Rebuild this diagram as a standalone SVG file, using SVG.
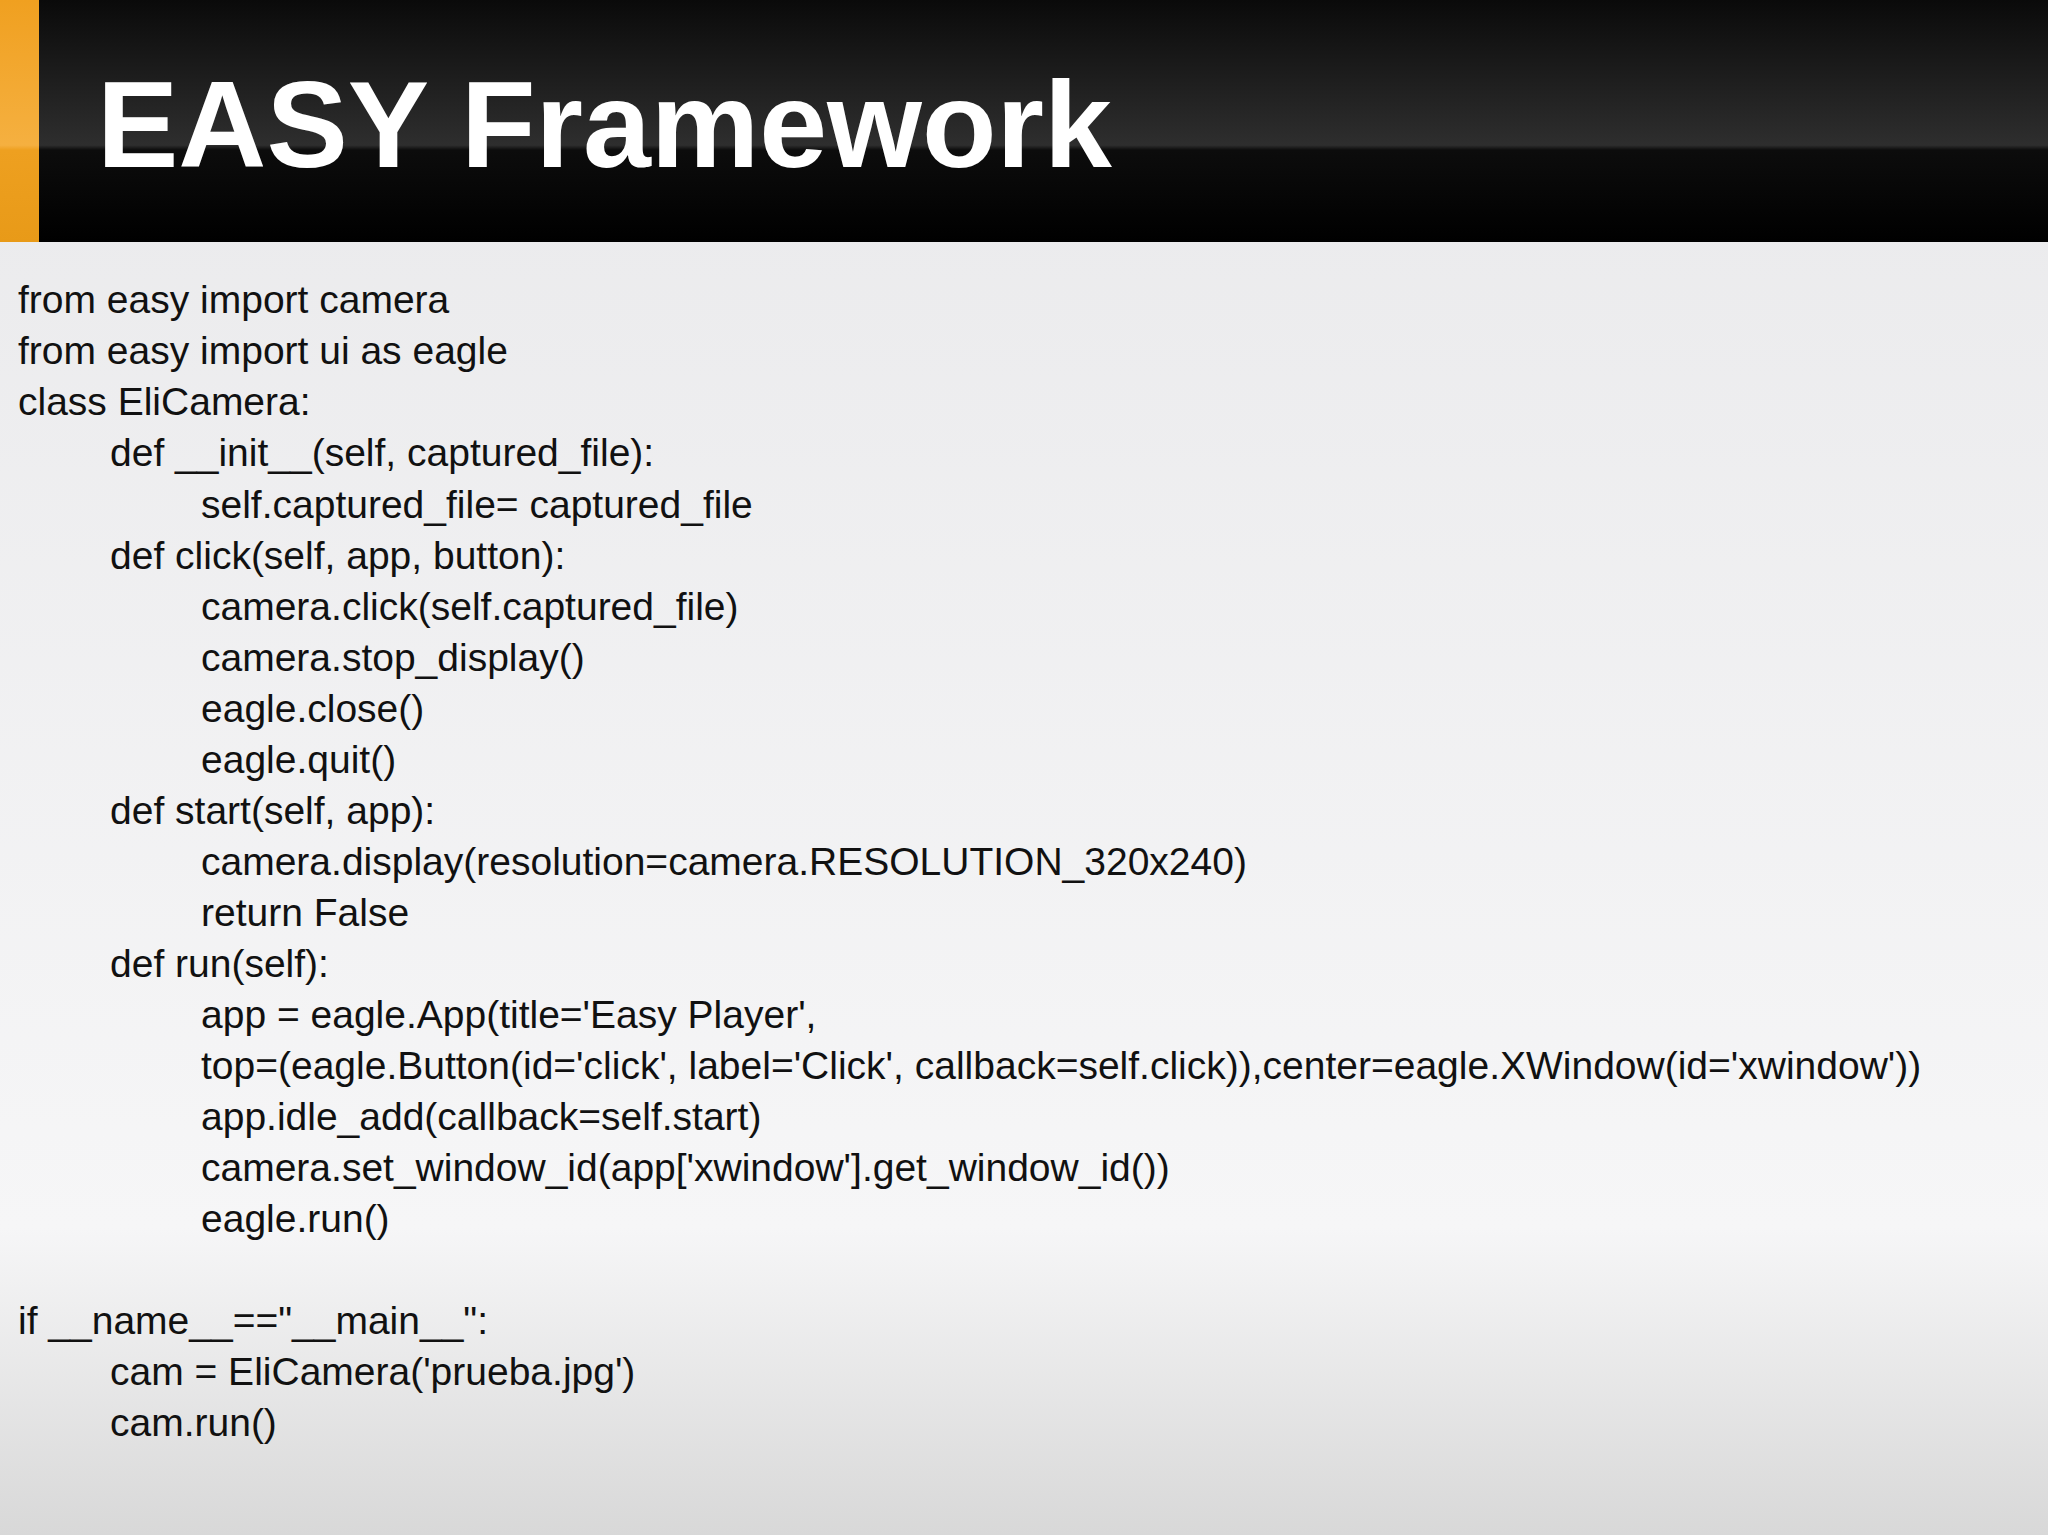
<svg xmlns="http://www.w3.org/2000/svg" width="2048" height="1535" viewBox="0 0 2048 1535">
<defs>
<linearGradient id="bg" x1="0" y1="0" x2="0" y2="1"><stop offset="0" stop-color="#e9e9eb"/><stop offset="0.8" stop-color="#f6f6f7"/><stop offset="1" stop-color="#d8d8d8"/></linearGradient>
<linearGradient id="hd" x1="0" y1="0" x2="0" y2="1"><stop offset="0" stop-color="#0a0a0a"/><stop offset="0.6" stop-color="#2e2e2e"/><stop offset="0.62" stop-color="#0c0c0c"/><stop offset="1" stop-color="#000"/></linearGradient>
<linearGradient id="or" x1="0" y1="0" x2="0" y2="1"><stop offset="0" stop-color="#f0a020"/><stop offset="0.6" stop-color="#f5b040"/><stop offset="0.62" stop-color="#eea020"/><stop offset="1" stop-color="#e89a18"/></linearGradient>
<style>.c{font-family:"Liberation Sans",Arial,sans-serif;font-size:39px;fill:#111}</style>
</defs>
<rect width="2048" height="1535" fill="url(#bg)"/>
<g id="header">
<rect width="2048" height="242" fill="url(#hd)"/>
<rect width="39" height="242" fill="url(#or)"/>
<text x="97" y="167" font-family="Liberation Sans,Arial,sans-serif" font-weight="bold" font-size="122" fill="#fff">EASY Framework</text>
</g>
<g id="code" class="c">
<text class="c" x="18" y="313">from easy import camera</text>
<text class="c" x="18" y="364">from easy import ui as eagle</text>
<text class="c" x="18" y="415">class EliCamera:</text>
<text class="c" x="110" y="466">def __init__(self, captured_file):</text>
<text class="c" x="201" y="518">self.captured_file= captured_file</text>
<text class="c" x="110" y="569">def click(self, app, button):</text>
<text class="c" x="201" y="620">camera.click(self.captured_file)</text>
<text class="c" x="201" y="671">camera.stop_display()</text>
<text class="c" x="201" y="722">eagle.close()</text>
<text class="c" x="201" y="773">eagle.quit()</text>
<text class="c" x="110" y="824">def start(self, app):</text>
<text class="c" x="201" y="875">camera.display(resolution=camera.RESOLUTION_320x240)</text>
<text class="c" x="201" y="926">return False</text>
<text class="c" x="110" y="977">def run(self):</text>
<text class="c" x="201" y="1028">app = eagle.App(title='Easy Player',</text>
<text class="c" x="201" y="1079">top=(eagle.Button(id='click', label='Click', callback=self.click)),center=eagle.XWindow(id='xwindow'))</text>
<text class="c" x="201" y="1130">app.idle_add(callback=self.start)</text>
<text class="c" x="201" y="1181">camera.set_window_id(app['xwindow'].get_window_id())</text>
<text class="c" x="201" y="1232">eagle.run()</text>
<text class="c" x="18" y="1334">if __name__=="__main__":</text>
<text class="c" x="110" y="1385">cam = EliCamera('prueba.jpg')</text>
<text class="c" x="110" y="1436">cam.run()</text>
</g>
</svg>
